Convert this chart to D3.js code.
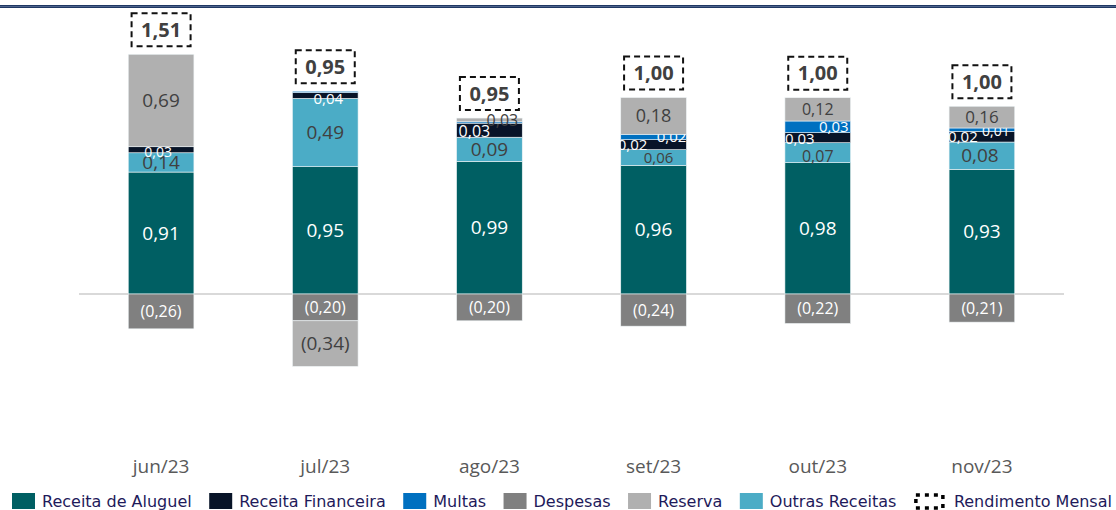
<!DOCTYPE html>
<meta charset="utf-8">
<style>
  body { margin: 0; background: #fff; }
  svg { display: block; }
</style>
<svg id="chart" width="1116" height="510"></svg>
<script src="https://cdn.jsdelivr.net/npm/d3@7"></script>
<script>

// meses
var months = ["jun/23", "jul/23", "ago/23", "set/23", "out/23", "nov/23"];

// valores rotulados (R$/cota)
var receitaAluguel    = [0.91, 0.95, 0.99, 0.96, 0.98, 0.93];
var outrasReceitas    = [0.14, 0.49, 0.09, 0.06, 0.07, 0.08];
var receitaFinanceira = [0.03, 0.04, 0.03, 0.02, 0.03, 0.02];
var multas            = [0.00, 0.01, 0.01, 0.02, 0.03, 0.01];
var reservaPos        = [0.69, 0.00, 0.03, 0.18, 0.12, 0.16];
var despesas          = [-0.26, -0.20, -0.20, -0.24, -0.22, -0.21];
var reservaNeg        = [0.00, -0.34, 0.00, 0.00, 0.00, 0.00];
var rendimento        = [1.51, 0.95, 0.95, 1.00, 1.00, 1.00];

// altura desenhada das fatias pequenas (no original elas foram "engordadas"
// pra caber o rótulo, então não batem com o valor do rótulo)
var outrasReceitasBar    = [0.144, 0.51, 0.18, 0.117, 0.149, 0.204];
var receitaFinanceiraBar = [0.045, 0.043, 0.105, 0.075, 0.075, 0.08];
var multasBar            = [0.00, 0.01, 0.01, 0.04, 0.087, 0.025];
var reservaPosBar        = [0.69, 0.00, 0.028, 0.274, 0.174, 0.162];

var colors = {
    aluguel: "#005F63",
    financeira: "#081428",
    multas: "#0070C0",
    despesas: "#808080",
    reserva: "#B0B0B0",
    outras: "#4BACC6"
};

var svg = d3.select("#chart");
var width = 1116, height = 510;

var x = d3.scaleBand()
    .domain(months)
    .range([79, 1064])
    .paddingInner(0.6)
    .paddingOuter(0.3);

var y = d3.scaleLinear()
    .domain([-1, 2])
    .range([428, 26]);

function fmt(v) {
    var s = Math.abs(v).toFixed(2).replace(".", ",");
    return v < 0 ? "(" + s + ")" : s;
}

// top rule
svg.append("line").attr("x1", 0).attr("x2", width).attr("y1", 6.5).attr("y2", 6.5)
    .attr("stroke", "#1F3864").attr("stroke-width", 3);
svg.append("line").attr("x1", 0).attr("x2", width).attr("y1", 6.5).attr("y2", 6.5)
    .attr("stroke", "#5a6f96").attr("stroke-width", 0.8);

var posSeries = [
    {key: "aluguel", values: receitaAluguel, bar: receitaAluguel, color: colors.aluguel, text: "#fff", size: 19},
    {key: "outras", values: outrasReceitas, bar: outrasReceitasBar, color: colors.outras, text: "#404040", size: 19},
    {key: "financeira", values: receitaFinanceira, bar: receitaFinanceiraBar, color: colors.financeira, text: "#fff", size: 15},
    {key: "multas", values: multas, bar: multasBar, color: colors.multas, text: "#fff", size: 15},
    {key: "reserva", values: reservaPos, bar: reservaPosBar, color: colors.reserva, text: "#404040", size: 19}
];
var negSeries = [
    {key: "despesas", values: despesas, bar: despesas, color: colors.despesas, text: "#fff", size: 16},
    {key: "reserva", values: reservaNeg, bar: reservaNeg, color: colors.reserva, text: "#404040", size: 19}
];

// ajuste fino dos rótulos (dx, dy, size) por série / mês
var labelTweak = {
    "financeira": [{dx: -3, dy: 2, size: 14}, {dx: 3, dy: 3}, {dx: -15, dy: 1, size: 16},
                   {dx: -21, dy: 0}, {dx: -18, dy: 1}, {dx: -19, dy: 0}],
    "multas":     [null, {hide: true}, {hide: true}, {dx: 18, dy: 0}, {dx: 16, dy: 0}, {dx: 14, dy: 1, size: 14}],
    "reserva":    [null, null, {dx: 13, dy: 0, size: 16}, {size: 18}, {size: 16}, {size: 17}],
    "outras":     [null, null, null, {dx: 5, size: 15}, {dy: 4, size: 16}, {dx: -2}]
};

var plot = svg.append("g");

function drawStack(series, sign) {
    var acc = months.map(function() { return 0; });
    series.forEach(function(s) {
        s.bar.forEach(function(h, i) {
            if (h === 0) return;
            var v = s.values[i];
            var y0 = acc[i], y1 = acc[i] + h;
            acc[i] = y1;
            var top = Math.max(y0, y1), bot = Math.min(y0, y1);
            plot.append("rect")
                .attr("x", x(months[i]))
                .attr("width", x.bandwidth())
                .attr("y", y(top))
                .attr("height", y(bot) - y(top))
                .attr("fill", s.color)
                .attr("stroke", "#eef4f6")
                .attr("stroke-width", 0.6);
            var tw = (sign > 0 && labelTweak[s.key] && labelTweak[s.key][i]) || {};
            if (tw.hide) return;
            var size = tw.size || s.size;
            plot.append("text")
                .attr("x", x(months[i]) + x.bandwidth() / 2 + (tw.dx || 0))
                .attr("y", (y(top) + y(bot)) / 2 + (tw.dy || 0))
                .attr("dy", "0.35em")
                .attr("text-anchor", "middle")
                .attr("fill", s.text)
                .style("font-family", "'Open Sans', 'Noto Sans', sans-serif")
                .style("font-size", size + "px")
                .text(fmt(v));
        });
    });
    return acc;
}

// zero line
svg.insert("line", "g").attr("x1", 79).attr("x2", 1064).attr("y1", y(0)).attr("y2", y(0))
    .attr("stroke", "#D9D9D9").attr("stroke-width", 2);

var topPos = drawStack(posSeries, 1);
drawStack(negSeries, -1);

// Rendimento mensal boxes
var boxW = 59, boxH = 33;
months.forEach(function(m, i) {
    var cx = x(m) + x.bandwidth() / 2;
    var by = y(topPos[i]) - 8 - boxH;
    plot.append("rect")
        .attr("x", cx - boxW / 2)
        .attr("y", by)
        .attr("width", boxW)
        .attr("height", boxH)
        .attr("fill", "#fff")
        .attr("stroke", "#111")
        .attr("stroke-width", 2)
        .attr("stroke-dasharray", "6,4");
    plot.append("text")
        .attr("x", cx)
        .attr("y", by + boxH / 2)
        .attr("dy", "0.36em")
        .attr("text-anchor", "middle")
        .attr("fill", "#404040")
        .style("font-family", "'Open Sans', 'Noto Sans', sans-serif")
        .style("font-weight", "bold")
        .style("font-size", "20px")
        .text(fmt(rendimento[i]));
});

// x axis (labels only)
var xAxis = svg.append("g")
    .attr("transform", "translate(0," + 459 + ")")
    .call(d3.axisBottom(x).tickSize(0).tickPadding(0));
xAxis.select(".domain").remove();
xAxis.selectAll("text")
    .attr("fill", "#595959")
    .attr("dy", "0.71em")
    .style("font-family", "'Open Sans', 'Noto Sans', sans-serif")
    .style("font-size", "19px");

// legend
var legendItems = [
    {label: "Receita de Aluguel", color: colors.aluguel},
    {label: "Receita Financeira", color: colors.financeira},
    {label: "Multas", color: colors.multas},
    {label: "Despesas", color: colors.despesas},
    {label: "Reserva", color: colors.reserva},
    {label: "Outras Receitas", color: colors.outras},
    {label: "Rendimento Mensal", dashed: true}
];

var legend = svg.append("g").attr("transform", "translate(12,493)");
var lx = 0;
legendItems.forEach(function(d) {
    var g = legend.append("g").attr("transform", "translate(" + lx + ",0)");
    var sw = d.dashed ? 31 : 23;
    if (d.dashed) {
        g.append("rect").attr("x", 2).attr("y", 2).attr("width", sw - 4).attr("height", 13)
            .attr("fill", "none").attr("stroke", "#000").attr("stroke-width", 3.5)
            .attr("stroke-dasharray", "4,5");
    } else {
        g.append("rect").attr("width", sw).attr("height", 16).attr("fill", d.color);
    }
    var t = g.append("text")
        .attr("x", sw + (d.dashed ? 9 : 7))
        .attr("y", 14)
        .attr("fill", "#1E1A5A")
        .style("font-family", "'DejaVu Sans', Verdana, sans-serif")
        .style("font-size", "16px")
        .text(d.label);
    lx += sw + (d.dashed ? 9 : 7) + t.node().getComputedTextLength() + 17.5;
});

</script>
